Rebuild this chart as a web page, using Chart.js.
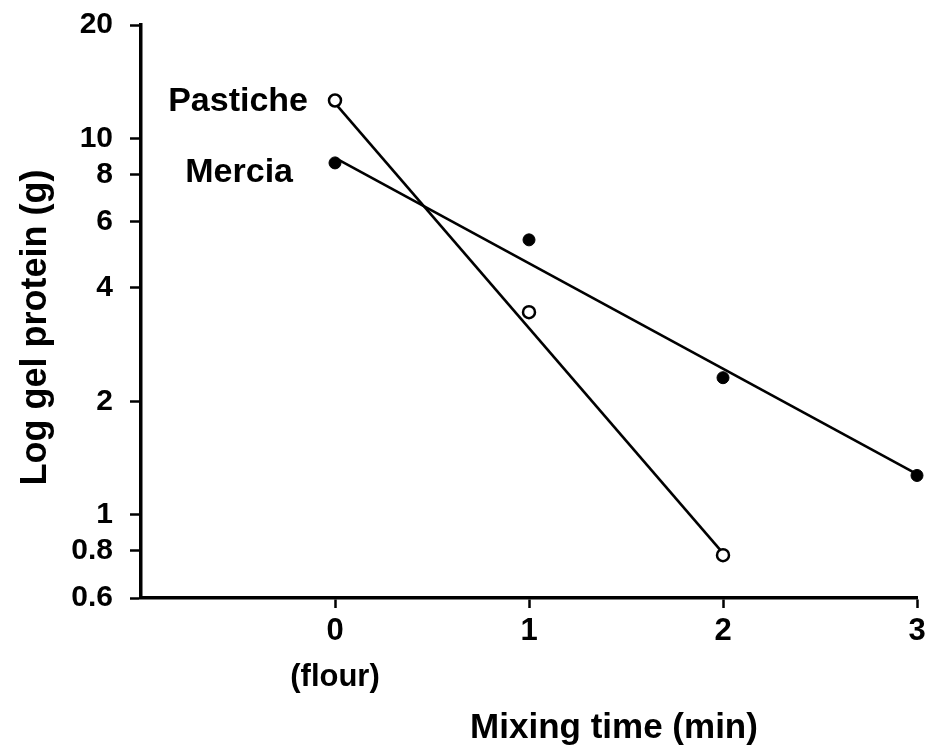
<!DOCTYPE html>
<html><head><meta charset="utf-8">
<script src="https://cdn.jsdelivr.net/npm/chart.js@4"></script>
<style>html,body{margin:0;padding:0;background:#fff}</style>
</head><body>
<div style="width:929px;height:747px"><canvas id="c" width="929" height="747"></canvas></div>
<script>
// ---- data ----
const pasticheTimes = [0, 1, 2];
const pasticheValues = [12.6, 3.45, 0.78];
const merciaTimes = [0, 1, 2, 3];
const merciaValues = [8.6, 5.37, 2.31, 1.27];
const pasticheFitTimes = [0, 2];
const pasticheFitValues = [12.4, 0.79];
const merciaFitTimes = [0, 3];
const merciaFitValues = [8.87, 1.28];
const yTickValues = [0.6, 0.8, 1, 2, 4, 6, 8, 10, 20];
const xTickValues = [0, 1, 2, 3];
const xTickLabels = [['0', '(flour)'], '1', '2', '3'];
const seriesNames = ['Pastiche', 'Mercia'];
const yTitle = 'Log gel protein (g)';
const xTitle = 'Mixing time (min)';

const FONT = '"Liberation Sans", Arial, sans-serif';
const toPts = (xs, ys) => xs.map((x, i) => ({x: x, y: ys[i]}));

const labelPlugin = {
  id: 'labels',
  afterDatasetsDraw(chart) {
    const ctx = chart.ctx;
    const ca = chart.chartArea;
    ctx.save();
    ctx.fillStyle = '#000';
    ctx.font = 'bold 34px ' + FONT;
    ctx.textAlign = 'right';
    ctx.textBaseline = 'middle';
    const p = chart.getDatasetMeta(0).data[0];
    ctx.fillText(seriesNames[0], p.x - 27, p.y + 1);
    const m = chart.getDatasetMeta(1).data[0];
    ctx.fillText(seriesNames[1], m.x - 42, m.y + 10);
    // x-axis title
    ctx.font = 'bold 35px ' + FONT;
    ctx.textAlign = 'center';
    ctx.textBaseline = 'alphabetic';
    ctx.fillText(xTitle, (ca.left + ca.right) / 2 + 85, ca.bottom + 140);
    // y-axis title
    ctx.font = 'bold 36px ' + FONT;
    ctx.textBaseline = 'middle';
    ctx.translate(36, (ca.top + ca.bottom) / 2 + 16);
    ctx.rotate(-Math.PI / 2);
    ctx.fillText(yTitle, 0, 0);
    ctx.restore();
  }
};

new Chart(document.getElementById('c'), {
  type: 'scatter',
  data: {
    datasets: [
      { label: seriesNames[0], data: toPts(pasticheTimes, pasticheValues), showLine: false,
        pointRadius: 6, pointBorderWidth: 2.5, pointBorderColor: '#000', pointBackgroundColor: '#fff', clip: false },
      { label: seriesNames[1], data: toPts(merciaTimes, merciaValues), showLine: false,
        pointRadius: 6, pointBorderWidth: 1, pointBorderColor: '#000', pointBackgroundColor: '#000', clip: false },
      { label: 'fitP', data: toPts(pasticheFitTimes, pasticheFitValues), showLine: true,
        borderColor: '#000', borderWidth: 2.6, pointRadius: 0, clip: false },
      { label: 'fitM', data: toPts(merciaFitTimes, merciaFitValues), showLine: true,
        borderColor: '#000', borderWidth: 2.6, pointRadius: 0, clip: false }
    ]
  },
  options: {
    responsive: false,
    animation: false,
    events: [],
    layout: { padding: { top: 25, right: 12, left: 0, bottom: 0 } },
    plugins: { legend: { display: false }, tooltip: { enabled: false } },
    scales: {
      x: {
        type: 'linear', min: -1, max: 3,
        afterBuildTicks: s => { s.ticks = xTickValues.map(v => ({value: v})); },
        afterFit: s => { s.height = 149; s.paddingLeft = 0; s.paddingRight = 0; },
        ticks: {
          color: '#000', padding: 0, maxRotation: 0, autoSkip: false,
          font: { family: FONT, size: 31, weight: 'bold', lineHeight: 1.5 },
          callback: v => xTickLabels[xTickValues.indexOf(v)]
        },
        grid: { drawOnChartArea: false, drawTicks: true, tickLength: 10, tickWidth: 2.5, color: '#000' },
        border: { display: true, width: 3.5, color: '#000' },
        title: { display: false }
      },
      y: {
        type: 'logarithmic', min: 0.6, max: 20,
        afterBuildTicks: s => { s.ticks = yTickValues.map(v => ({value: v})); },
        afterFit: s => { s.width = 141; s.paddingTop = 0; s.paddingBottom = 0; },
        ticks: {
          color: '#000', padding: 17, autoSkip: false,
          font: { family: FONT, size: 30, weight: 'bold' },
          callback: v => String(v)
        },
        grid: { drawOnChartArea: false, drawTicks: true, tickLength: 11, tickWidth: 2.5, color: '#000' },
        border: { display: true, width: 3.5, color: '#000' }
      }
    }
  },
  plugins: [labelPlugin]
});
</script>
</body></html>
